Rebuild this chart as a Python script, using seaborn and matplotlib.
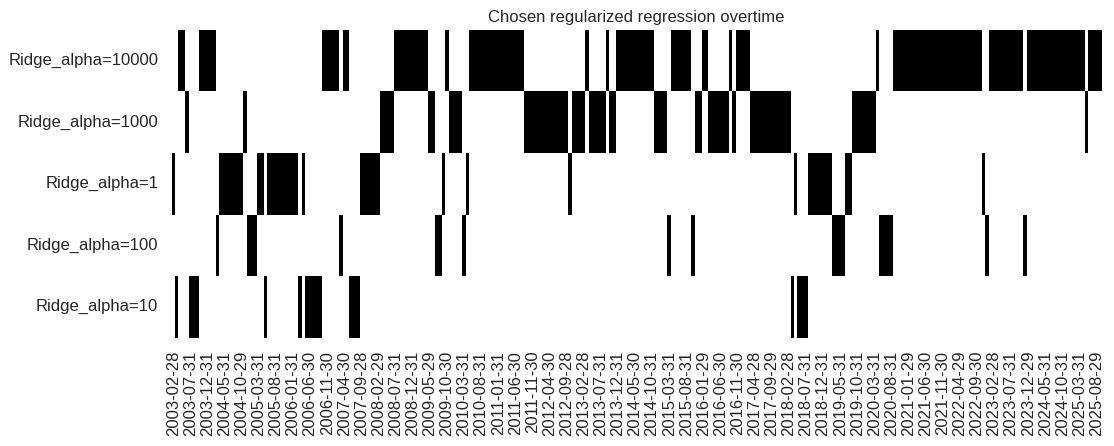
import matplotlib
matplotlib.use("Agg")
import matplotlib.pyplot as plt
from matplotlib.colors import ListedColormap
import numpy as np
import pandas as pd
import seaborn as sns

# model rows, top to bottom
models = ["Ridge_alpha=10000", "Ridge_alpha=1000", "Ridge_alpha=1",
          "Ridge_alpha=100", "Ridge_alpha=10"]

# chosen alpha per month, as runs (alpha, number of months)
run_alpha = [1, 10, 10000, 1000, 10, 10000, 100, 1, 1000, 100,
             1, 10, 1, 10, 1, 10, 10000, 100, 10000, 10,
             1, 1000, 10000, 1000, 100, 1, 10000, 1000, 100, 1,
             10000, 1000, 1, 1000, 10000, 1000, 10000, 1000, 10000, 1000,
             100, 10000, 100, 1000, 10000, 1000, 10000, 1000, 10000, 1000,
             10, 1, 10, 1, 100, 1, 1000, 10000, 100, 10000,
             1, 100, 10000, 100, 10000, 1000, 10000]
run_len = [1, 1, 2, 1, 3, 5, 1, 7, 1, 3,
           2, 1, 9, 1, 1, 5, 5, 1, 2, 3,
           6, 4, 10, 2, 2, 1, 1, 4, 1, 1,
           16, 13, 1, 4, 1, 5, 1, 2, 11, 4,
           1, 6, 1, 2, 2, 6, 1, 1, 4, 12,
           1, 1, 3, 7, 4, 2, 7, 1, 4, 26,
           1, 1, 10, 1, 17, 1, 4]

start_date = "2003-02-28"

choices = np.repeat([f"Ridge_alpha={a}" for a in run_alpha], run_len)
dates = pd.date_range(start_date, periods=len(choices), freq="BME")
labels = dates.strftime("%Y-%m-%d")

table = pd.DataFrame(
    {m: (choices == m).astype(int) for m in models}, index=labels
).T

sns.set_theme(style="white")
plt.rcParams["font.family"] = ["Liberation Sans", "DejaVu Sans"]

fig = plt.figure(figsize=(11.14, 4.46), dpi=100)
ax = fig.add_axes([0.154, 0.243, 0.835, 0.69])
sns.heatmap(table, cmap=ListedColormap(["white", "black"]), cbar=False,
            xticklabels=5, yticklabels=True, ax=ax)
ax.set_title("Chosen regularized regression overtime", fontsize=12,
             color="#262626")
ax.tick_params(axis="x", labelsize=12, rotation=90, colors="#262626")
ax.tick_params(axis="y", labelsize=12, rotation=0, colors="#262626")
ax.set_xlabel("")
ax.set_ylabel("")

fig.savefig("out.png", dpi=100)
